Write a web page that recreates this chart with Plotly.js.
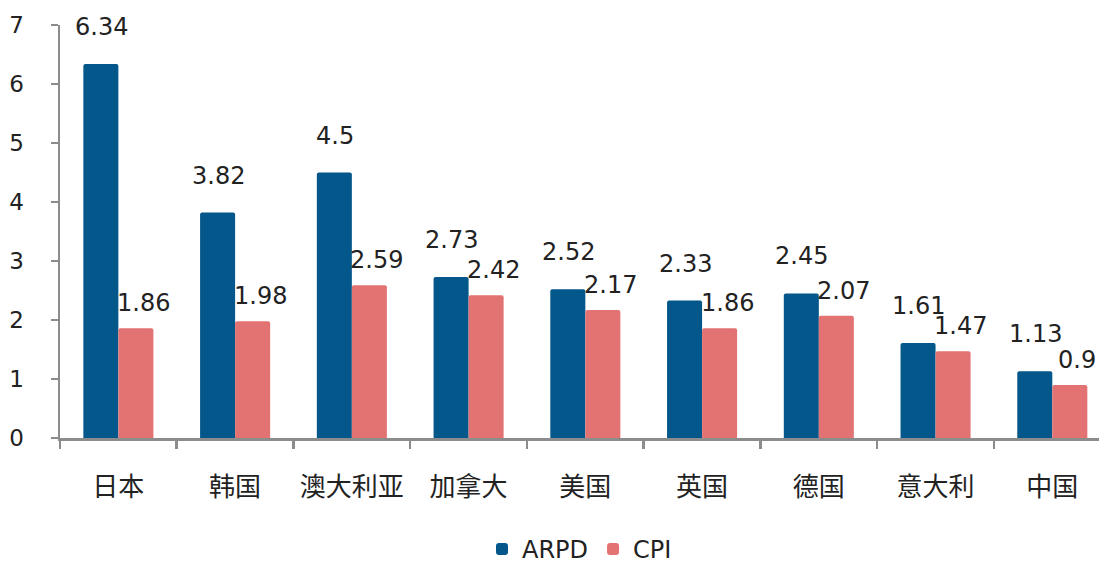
<!DOCTYPE html>
<html>
<head>
<meta charset="utf-8">
<script src="https://cdn.plot.ly/plotly-3.0.1.min.js"></script>
<style>
html,body{margin:0;padding:0;background:#fff;overflow:hidden;}
#chart{width:1099px;height:563px;}
</style>
</head>
<body>
<div id="chart"></div>
<script>
const categories = ["日本","韩国","澳大利亚","加拿大","美国","英国","德国","意大利","中国"];
const arpd = [6.34, 3.82, 4.5, 2.73, 2.52, 2.33, 2.45, 1.61, 1.13];
const cpi = [1.86, 1.98, 2.59, 2.42, 2.17, 1.86, 2.07, 1.47, 0.9];
const yTicks = [0,1,2,3,4,5,6,7];

const numFont = "DejaVu Sans, Liberation Sans, sans-serif";
const cjkFont = "Noto Sans CJK SC, sans-serif";
const textColor = "#222222";
const blue = "#03578A";
const pink = "#E37272";

const traces = [
  {type:"bar", name:"ARPD", x:categories, y:arpd, marker:{color:blue, cornerradius:2}, hoverinfo:"skip"},
  {type:"bar", name:"CPI", x:categories, y:cpi, marker:{color:pink, cornerradius:2}, hoverinfo:"skip"}
];

const annotations = [];
categories.forEach((c,i)=>{
  annotations.push({x:c, y:arpd[i], xref:"x", yref:"y", text:String(arpd[i]),
    showarrow:false, xshift:-17, yshift:21, yanchor:"bottom",
    font:{family:numFont, size:24, color:textColor}});
  annotations.push({x:c, y:cpi[i], xref:"x", yref:"y", text:String(cpi[i]),
    showarrow:false, xshift:25, yshift:9, yanchor:"bottom",
    font:{family:numFont, size:24, color:textColor}});
});

const layout = {
  width:1099, height:563,
  margin:{l:60, r:0, t:25, b:125, autoexpand:false},
  paper_bgcolor:"#fff", plot_bgcolor:"#fff",
  barmode:"group", bargap:0.4, bargroupgap:0,
  showlegend:true,
  legend:{orientation:"h", x:0.5, xanchor:"center", xref:"paper", y:-0.27, yanchor:"middle",
    font:{family:numFont, size:24, color:textColor}, itemwidth:30, traceorder:"normal"},
  xaxis:{type:"category", range:[-0.5, 8.40], showline:true, linecolor:"#8c8c8c", linewidth:2.5,
    ticks:"outside", tickson:"boundaries", ticklen:8, tickwidth:2.5, tickcolor:"#8c8c8c",
    ticklabelstandoff:24, showgrid:false, zeroline:false, automargin:false,
    tickfont:{family:cjkFont, size:26, color:textColor}},
  yaxis:{range:[0,7], tickvals:yTicks, showline:true, linecolor:"#8c8c8c", linewidth:2.5,
    ticks:"outside", ticklen:7, tickwidth:2.5, tickcolor:"#8c8c8c",
    ticklabelstandoff:22, showgrid:false, zeroline:false, automargin:false,
    tickfont:{family:numFont, size:23, color:textColor}},
  annotations:annotations
};

Plotly.newPlot("chart", traces, layout, {displayModeBar:false, staticPlot:true});
</script>
</body>
</html>
